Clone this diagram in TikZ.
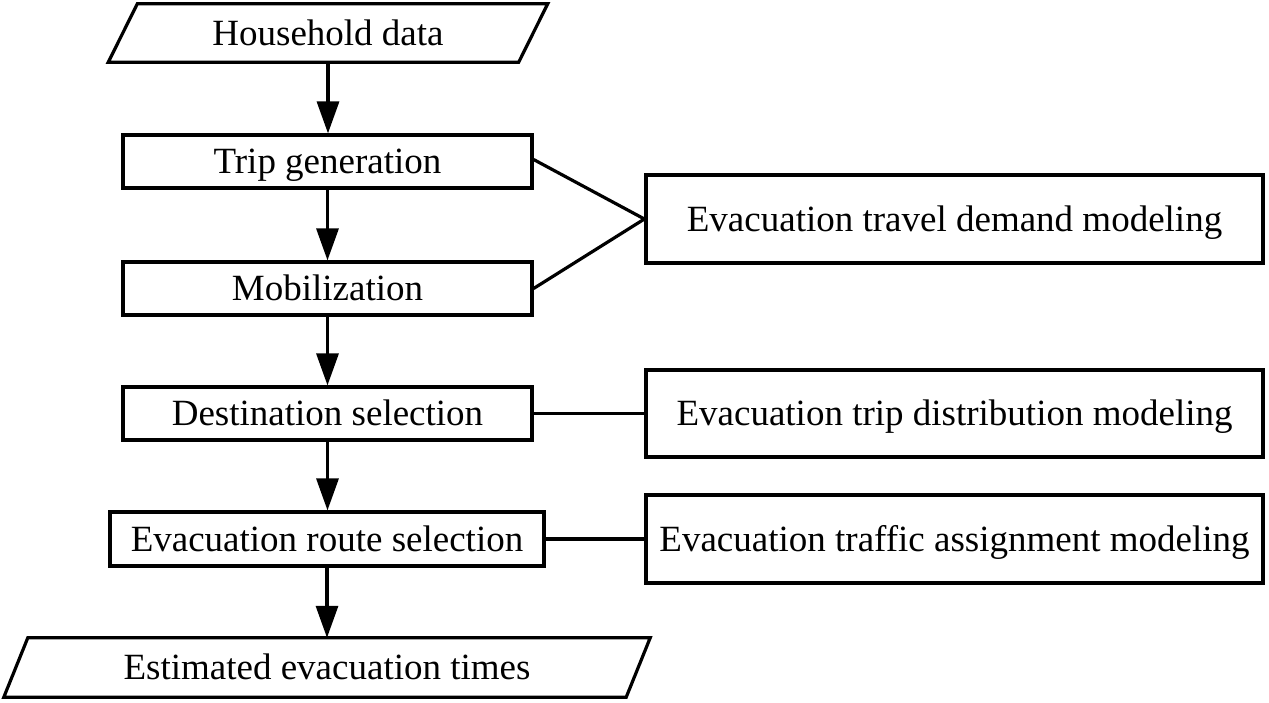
\documentclass[tikz,border=0pt]{standalone}
\usepackage{fontspec}
\setmainfont{Liberation Serif}
\usetikzlibrary{arrows.meta,calc}
\tikzset{
  base/.style={inner sep=0pt, text height=24.5pt, text depth=0pt, font=\fontsize{37}{44}\selectfont},
  stepbox/.style={base, draw, line width=3.2pt, minimum width=409pt, minimum height=53pt},
  modelbox/.style={base, draw, line width=3.2pt, minimum width=617pt, minimum height=88pt},
  iobox/.style={base, minimum height=58pt},
  flow/.style={line width=3.2pt, -{Triangle[length=32pt,width=22pt]}},
  link/.style={line width=3.2pt},
  paraline/.style={line width=3.2pt, line join=miter}
}
\begin{document}
\begin{tikzpicture}[x=1pt,y=-1pt]
\useasboundingbox (0,0) rectangle (1269,702);
% input / output
\node[iobox, minimum width=410pt] (hh) at (328,33) {Household data};
\draw[paraline] ([xshift=14.5pt]hh.north west) -- ([xshift=14.5pt]hh.north east)
  -- ([xshift=-14.5pt]hh.south east) -- ([xshift=-14.5pt]hh.south west) -- cycle;
\node[iobox, minimum width=622pt, minimum height=59pt] (est) at (327,667.5) {Estimated evacuation times};
\draw[paraline] ([xshift=12pt]est.north west) -- ([xshift=12pt]est.north east)
  -- ([xshift=-12pt]est.south east) -- ([xshift=-12pt]est.south west) -- cycle;
% steps
\node[stepbox] (trip) at (327.5,161.5) {Trip generation};
\node[stepbox] (mob) at (327.5,288.5) {Mobilization};
\node[stepbox] (dest) at (327.5,413.5) {Destination selection};
\node[stepbox, minimum width=434pt, minimum height=54pt] (route) at (327,539) {Evacuation route selection};
% models
\node[modelbox] (demand) at (954.5,219) {Evacuation travel demand modeling};
\node[modelbox, minimum height=87pt] (distr) at (954.5,413.5) {Evacuation trip distribution modeling};
\node[modelbox] (assign) at (954.5,539) {Evacuation traffic assignment modeling};
% flow arrows
\draw[flow] (hh.south) -- (hh.south |- trip.north);
\draw[flow] (trip.south) -- (mob.north);
\draw[flow] (mob.south) -- (dest.north);
\draw[flow] (dest.south) -- (dest.south |- route.north);
\draw[flow] (route.south) -- (route.south |- est.north);
% links
\draw[link] ([yshift=2pt]trip.east) -- (demand.west);
\draw[link] (mob.east) -- (demand.west);
\draw[link] (dest.east) -- (distr.west);
\draw[link] (route.east) -- (assign.west);
\end{tikzpicture}
\end{document}
